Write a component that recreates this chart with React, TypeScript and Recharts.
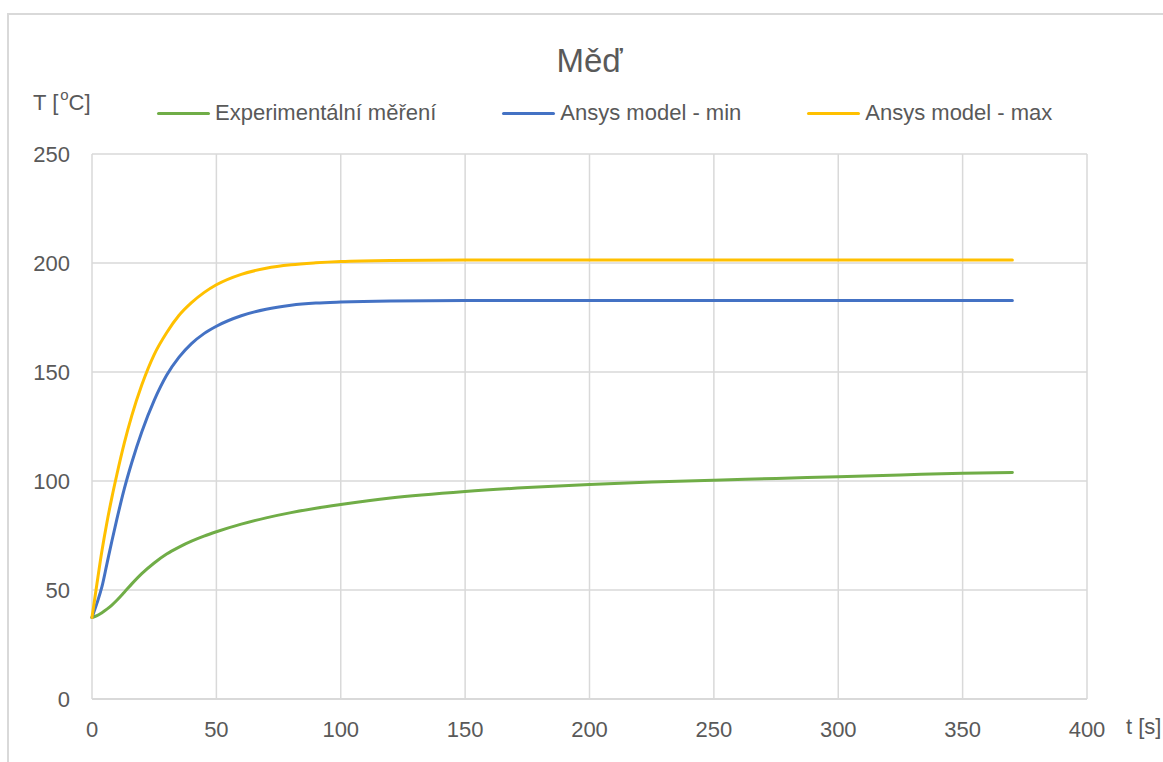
import { CartesianGrid, Line, LineChart, XAxis, YAxis } from "recharts";

const FONT = '"Liberation Sans", Arial, sans-serif';
const TEXT = "#595959";
const GRID = "#d9d9d9";

// time [s]
const timeS = [
  0, 2, 4, 6, 8, 10, 13, 16, 20, 25, 30, 35, 40, 45, 50, 60, 70, 80, 90, 100,
  120, 150, 175, 200, 225, 250, 275, 300, 325, 350, 370,
];

// T [°C]
const experimental = [
  37.4, 38.2, 39.6, 41.2, 43.1, 45.3, 49, 52.8, 57.5, 62.4, 66.5, 69.7, 72.4,
  74.7, 76.7, 80.2, 83.1, 85.5, 87.5, 89.2, 92.2, 95.2, 97, 98.4, 99.5, 100.4,
  101.2, 102, 102.8, 103.6, 103.9,
];
const ansysMin = [
  37.4, 44, 51.5, 62, 72.5, 82.5, 96.5, 108.5, 122.5, 137, 148.5, 156.8, 163,
  167.6, 171, 175.8, 178.8, 180.6, 181.6, 182.1, 182.6, 182.8, 182.8, 182.8,
  182.8, 182.8, 182.8, 182.8, 182.8, 182.8, 182.8,
];
const ansysMax = [
  37.4, 53, 68, 81, 92.5, 103, 117.5, 130, 144, 158, 168, 176, 181.8, 186.4,
  190, 194.8, 197.6, 199.2, 200.1, 200.7, 201.2, 201.4, 201.4, 201.4, 201.4,
  201.4, 201.4, 201.4, 201.4, 201.4, 201.4,
];

const xTicks = [0, 50, 100, 150, 200, 250, 300, 350, 400];
const yTicks = [0, 50, 100, 150, 200, 250];

const series = [
  { key: "exp", name: "Experimentální měření", color: "#70ad47" },
  { key: "min", name: "Ansys model - min", color: "#4472c4" },
  { key: "max", name: "Ansys model - max", color: "#ffc000" },
];

const data = timeS.map((t, i) => ({
  t,
  exp: experimental[i],
  min: ansysMin[i],
  max: ansysMax[i],
}));

const tickStyle = { fontSize: 22, fill: TEXT, fontFamily: FONT };

export default function App() {
  return (
    <div
      style={{
        position: "fixed",
        left: 0,
        top: 0,
        width: 1163,
        height: 762,
        overflow: "hidden",
        background: "#fff",
        fontFamily: FONT,
        color: TEXT,
      }}
    >
      <div
        style={{
          position: "absolute",
          left: 7,
          top: 13,
          width: 1300,
          height: 900,
          borderTop: `2px solid ${GRID}`,
          borderLeft: `2px solid ${GRID}`,
        }}
      />
      <div style={{ position: "absolute", left: 0, top: 0 }}>
        <LineChart
          width={1163}
          height={762}
          data={data}
          margin={{ top: 154, right: 76, bottom: 23, left: 32 }}
        >
          <CartesianGrid stroke={GRID} strokeWidth={1.5} />
          <XAxis
            dataKey="t"
            type="number"
            domain={[0, 400]}
            ticks={xTicks}
            height={40}
            tickSize={0}
            tickMargin={22}
            tickLine={false}
            axisLine={{ stroke: GRID, strokeWidth: 2 }}
            tick={tickStyle}
          />
          <YAxis
            type="number"
            domain={[0, 250]}
            ticks={yTicks}
            width={60}
            tickSize={0}
            tickMargin={22}
            tickLine={false}
            axisLine={false}
            tick={tickStyle}
          />
          {series.map((s) => (
            <Line
              key={s.key}
              type="monotone"
              dataKey={s.key}
              name={s.name}
              stroke={s.color}
              strokeWidth={3}
              strokeLinecap="round"
              dot={false}
              activeDot={false}
              isAnimationActive={false}
            />
          ))}
        </LineChart>
      </div>

      <div
        style={{
          position: "absolute",
          left: 92,
          width: 995,
          top: 44,
          fontSize: 33,
          lineHeight: "33px",
          textAlign: "center",
        }}
      >
        Měď
      </div>

      <div
        style={{
          position: "absolute",
          left: 33,
          top: 92,
          fontSize: 22,
          lineHeight: "22px",
          whiteSpace: "nowrap",
        }}
      >
        T [
        <span style={{ fontSize: 15, position: "relative", top: -10, marginLeft: 2 }}>o</span>
        C]
      </div>

      <div
        style={{
          position: "absolute",
          left: 1126,
          top: 716,
          fontSize: 22,
          lineHeight: "22px",
          whiteSpace: "nowrap",
        }}
      >
        t [s]
      </div>

      <div
        style={{
          position: "absolute",
          left: 157,
          top: 102,
          display: "flex",
          alignItems: "center",
          gap: 66,
          fontSize: 22,
          lineHeight: "22px",
          whiteSpace: "nowrap",
        }}
      >
        {series.map((s) => (
          <div key={s.key} style={{ display: "flex", alignItems: "center" }}>
            <span
              style={{
                display: "inline-block",
                width: 53,
                height: 3,
                borderRadius: 2,
                background: s.color,
                marginRight: 5,
              }}
            />
            <span>{s.name}</span>
          </div>
        ))}
      </div>
    </div>
  );
}
